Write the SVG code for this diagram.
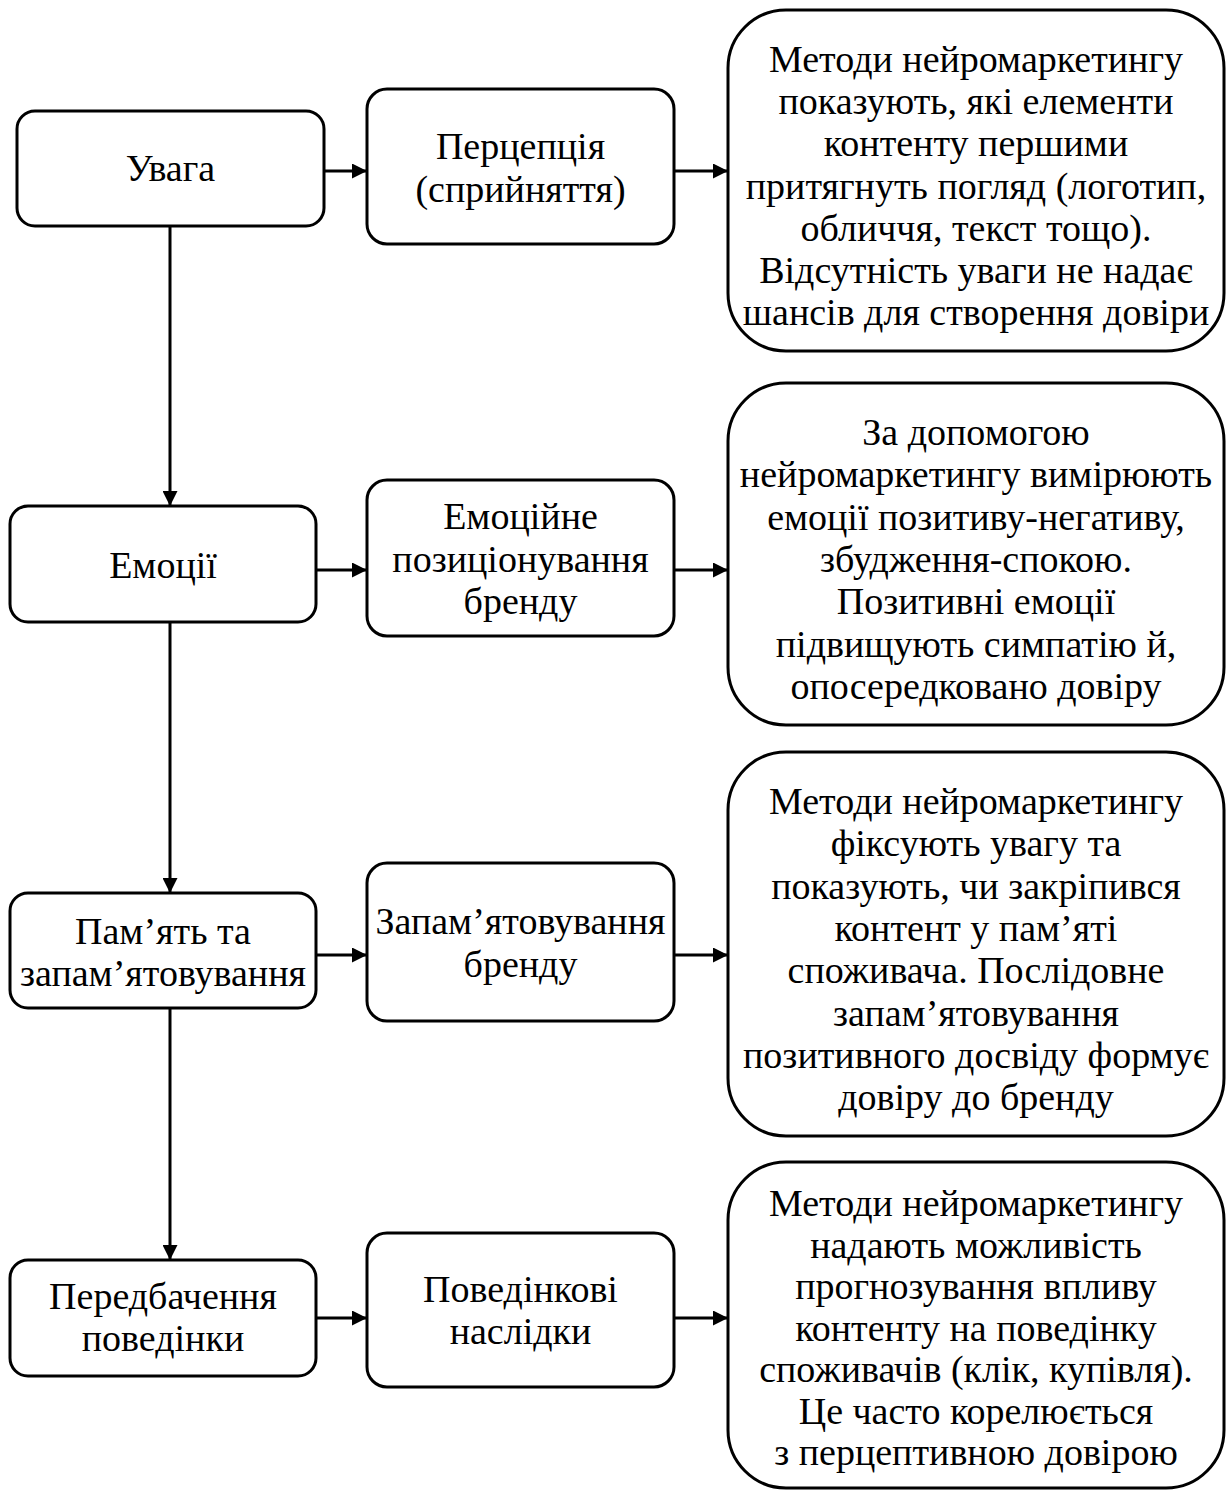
<svg xmlns="http://www.w3.org/2000/svg" width="1230" height="1490" viewBox="0 0 1230 1490">
<defs>
<style>
.box{fill:#fff;stroke:#000;stroke-width:3}
.t{font-family:"Liberation Serif","Times New Roman",serif;font-size:38px;fill:#000;text-anchor:middle}
.c{fill:none;stroke:#000;stroke-width:3}
</style>
<marker id="ah" viewBox="0 0 15 15" refX="15" refY="7.5" markerWidth="15" markerHeight="15" markerUnits="userSpaceOnUse" orient="auto">
<path d="M0,0 L15,7.5 L0,15 Z" fill="#000"/>
</marker>
</defs>
<rect width="1230" height="1490" fill="#fff"/>
<g id="connectors">
<line class="c" x1="324" y1="171" x2="367" y2="171" marker-end="url(#ah)"/>
<line class="c" x1="674" y1="171" x2="728" y2="171" marker-end="url(#ah)"/>
<line class="c" x1="316" y1="570" x2="367" y2="570" marker-end="url(#ah)"/>
<line class="c" x1="674" y1="570" x2="728" y2="570" marker-end="url(#ah)"/>
<line class="c" x1="316" y1="955" x2="367" y2="955" marker-end="url(#ah)"/>
<line class="c" x1="674" y1="955" x2="728" y2="955" marker-end="url(#ah)"/>
<line class="c" x1="316" y1="1318" x2="367" y2="1318" marker-end="url(#ah)"/>
<line class="c" x1="674" y1="1318" x2="728" y2="1318" marker-end="url(#ah)"/>
<line class="c" x1="170" y1="226" x2="170" y2="506" marker-end="url(#ah)"/>
<line class="c" x1="170" y1="622" x2="170" y2="893" marker-end="url(#ah)"/>
<line class="c" x1="170" y1="1008" x2="170" y2="1260" marker-end="url(#ah)"/>
</g>
<g id="n-uvaha">
<rect class="box" x="17" y="111" width="307" height="115" rx="18"/>
<text class="t" x="170.5" y="181">Увага</text>
</g>
<g id="n-pertseptsiia">
<rect class="box" x="367" y="89" width="307" height="155" rx="20"/>
<text class="t" x="520.5" y="159">Перцепція</text>
<text class="t" x="520.5" y="201.5">(сприйняття)</text>
</g>
<g id="n-desc1">
<rect class="box" x="728" y="10" width="496" height="341" rx="58"/>
<text class="t" x="976" y="72">Методи нейромаркетингу</text>
<text class="t" x="976" y="114.2">показують, які елементи</text>
<text class="t" x="976" y="156.4">контенту першими</text>
<text class="t" x="976" y="198.6">притягнуть погляд (логотип,</text>
<text class="t" x="976" y="240.8">обличчя, текст тощо).</text>
<text class="t" x="976" y="283">Відсутність уваги не надає</text>
<text class="t" x="976" y="325.2">шансів для створення довіри</text>
</g>
<g id="n-emotsii">
<rect class="box" x="10" y="506" width="306" height="116" rx="18"/>
<text class="t" x="163" y="577.5">Емоції</text>
</g>
<g id="n-emotsiine">
<rect class="box" x="367" y="480" width="307" height="156" rx="20"/>
<text class="t" x="520.5" y="529">Емоційне</text>
<text class="t" x="520.5" y="571.5">позиціонування</text>
<text class="t" x="520.5" y="614">бренду</text>
</g>
<g id="n-desc2">
<rect class="box" x="728" y="383" width="496" height="342" rx="58"/>
<text class="t" x="976" y="445">За допомогою</text>
<text class="t" x="976" y="487.3">нейромаркетингу вимірюють</text>
<text class="t" x="976" y="529.6">емоції позитиву-негативу,</text>
<text class="t" x="976" y="571.9">збудження-спокою.</text>
<text class="t" x="976" y="614.2">Позитивні емоції</text>
<text class="t" x="976" y="656.5">підвищують симпатію й,</text>
<text class="t" x="976" y="698.8">опосередковано довіру</text>
</g>
<g id="n-pamiat">
<rect class="box" x="10" y="893" width="306" height="115" rx="18"/>
<text class="t" x="163" y="943.5">Пам’ять та</text>
<text class="t" x="163" y="986">запам’ятовування</text>
</g>
<g id="n-zapamiat">
<rect class="box" x="367" y="863" width="307" height="158" rx="20"/>
<text class="t" x="520.5" y="934">Запам’ятовування</text>
<text class="t" x="520.5" y="976.5">бренду</text>
</g>
<g id="n-desc3">
<rect class="box" x="728" y="752" width="496" height="384" rx="58"/>
<text class="t" x="976" y="814">Методи нейромаркетингу</text>
<text class="t" x="976" y="856.3">фіксують увагу та</text>
<text class="t" x="976" y="898.6">показують, чи закріпився</text>
<text class="t" x="976" y="940.9">контент у пам’яті</text>
<text class="t" x="976" y="983.2">споживача. Послідовне</text>
<text class="t" x="976" y="1025.5">запам’ятовування</text>
<text class="t" x="976" y="1067.8">позитивного досвіду формує</text>
<text class="t" x="976" y="1110.1">довіру до бренду</text>
</g>
<g id="n-peredbachennia">
<rect class="box" x="10" y="1260" width="306" height="116" rx="18"/>
<text class="t" x="163" y="1308.5">Передбачення</text>
<text class="t" x="163" y="1351">поведінки</text>
</g>
<g id="n-povedinkovi">
<rect class="box" x="367" y="1233" width="307" height="154" rx="20"/>
<text class="t" x="520.5" y="1301.5">Поведінкові</text>
<text class="t" x="520.5" y="1344">наслідки</text>
</g>
<g id="n-desc4">
<rect class="box" x="728" y="1162" width="496" height="326" rx="58"/>
<text class="t" x="976" y="1216">Методи нейромаркетингу</text>
<text class="t" x="976" y="1257.5">надають можливість</text>
<text class="t" x="976" y="1299">прогнозування впливу</text>
<text class="t" x="976" y="1340.5">контенту на поведінку</text>
<text class="t" x="976" y="1382">споживачів (клік, купівля).</text>
<text class="t" x="976" y="1423.5">Це часто корелюється</text>
<text class="t" x="976" y="1465">з перцептивною довірою</text>
</g>
</svg>
